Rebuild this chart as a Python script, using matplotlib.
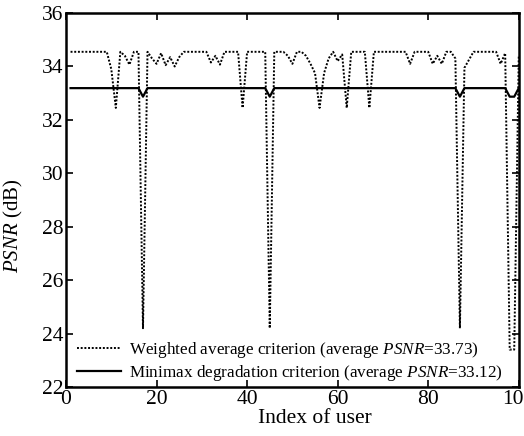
import numpy as np
import matplotlib
matplotlib.use('Agg')
import matplotlib.pyplot as plt

plt.rcParams['font.family'] = ['Liberation Serif', 'DejaVu Serif']
plt.rcParams['mathtext.fontset'] = 'custom'
plt.rcParams['mathtext.rm'] = 'Liberation Serif'
plt.rcParams['mathtext.it'] = 'Liberation Serif:italic'

# user index 1..100
users = np.arange(1, 101)

# weighted average criterion
weighted = [
    34.55, 34.55, 34.55, 34.55, 34.55, 34.55, 34.55, 34.55, 34.55, 33.9,   # 1-10
    32.45, 34.55, 34.4, 34.07, 34.55, 34.55, 24.2, 34.55, 34.3, 34.1,      # 11-20
    34.5, 34.05, 34.35, 34.0, 34.35, 34.55, 34.55, 34.55, 34.55, 34.55,    # 21-30
    34.55, 34.15, 34.4, 34.07, 34.55, 34.55, 34.55, 34.55, 32.45, 34.55,   # 31-40
    34.55, 34.55, 34.55, 34.55, 24.2, 34.55, 34.55, 34.55, 34.4, 34.1,     # 41-50
    34.55, 34.55, 34.4, 34.1, 33.75, 32.45, 33.75, 34.3, 34.55, 34.2,      # 51-60
    34.45, 32.45, 34.55, 34.55, 34.55, 34.55, 32.45, 34.55, 34.55, 34.55,  # 61-70
    34.55, 34.55, 34.55, 34.55, 34.55, 34.1, 34.55, 34.55, 34.55, 34.55,   # 71-80
    34.1, 34.4, 34.1, 34.55, 34.55, 34.3, 24.2, 33.95, 34.25, 34.55,       # 81-90
    34.55, 34.55, 34.55, 34.55, 34.55, 34.1, 34.5, 23.4, 23.4, 34.4,       # 91-100
]

# minimax degradation criterion
minimax = [33.19] * 100
for i in [17, 45, 87, 98, 99]:
    minimax[i - 1] = 32.87

fig = plt.figure(figsize=(5.24, 4.36), dpi=100)
ax = fig.add_axes([0.126, 0.1124, 0.864, 0.8576])

ax.plot(users, weighted, color='black', linestyle=(0, (1, 0.9)), linewidth=1.4,
        label=r'Weighted average criterion (average $\it{PSNR}$=33.73)')
ax.plot(users, minimax, color='black', linestyle='-', linewidth=1.6,
        label=r'Minimax degradation criterion (average $\it{PSNR}$=33.12)')

ax.set_xlim(0, 100)
ax.set_ylim(22, 36)
ax.set_xticks(np.arange(0, 101, 20))
ax.set_yticks(np.arange(22, 37, 2))
ax.tick_params(direction='in', length=5, width=1.2, top=True, right=True,
               labelsize=15.5, pad=2)
for s in ax.spines.values():
    s.set_linewidth(1.8)

ax.set_xlabel('Index of user', fontsize=15.5, labelpad=1)
ax.xaxis.set_label_coords(0.55, -0.06)
ax.set_ylabel(r'$\it{PSNR}$ (dB)', fontsize=15, labelpad=4)
ax.yaxis.set_label_coords(-0.09, 0.43)

ax.legend(loc='lower left', bbox_to_anchor=(0.009, -0.007), frameon=False,
          fontsize=12.3, handlelength=2.6, handletextpad=0.47,
          labelspacing=0.15, borderaxespad=0.0)

fig.savefig('out.png', dpi=100)
